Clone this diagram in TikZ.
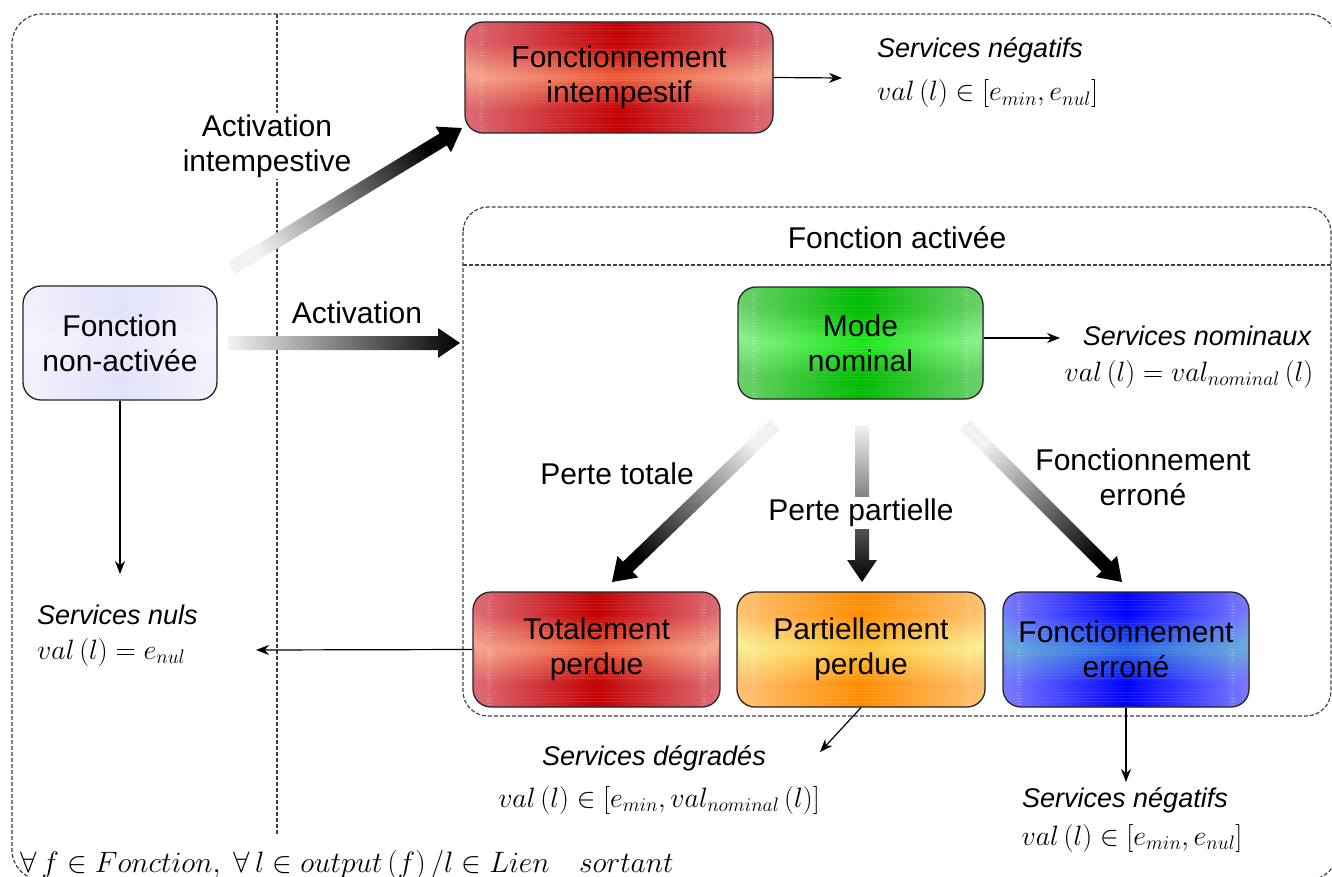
\RequirePackage{fix-cm}
\documentclass[tikz,border=0pt]{standalone}
\usepackage{fontspec}
\setmainfont{Liberation Sans}
\usetikzlibrary{calc,arrows.meta}

\definecolor{redE}{RGB}{220,104,114}
\definecolor{redC}{RGB}{195,0,0}
\definecolor{redBE}{RGB}{246,168,142}
\definecolor{redBC}{RGB}{236,92,55}
\definecolor{grnE}{RGB}{104,208,104}
\definecolor{grnC}{RGB}{0,188,0}
\definecolor{grnBE}{RGB}{140,242,140}
\definecolor{grnBC}{RGB}{30,232,30}
\definecolor{orgE}{RGB}{255,192,112}
\definecolor{orgC}{RGB}{255,140,0}
\definecolor{orgBE}{RGB}{250,240,150}
\definecolor{orgBC}{RGB}{252,196,60}
\definecolor{bluE}{RGB}{118,118,255}
\definecolor{bluC}{RGB}{0,0,255}
\definecolor{bluBE}{RGB}{105,172,220}
\definecolor{bluBC}{RGB}{45,105,228}
\definecolor{lavE}{RGB}{240,240,253}
\definecolor{lavC}{RGB}{226,226,250}
\definecolor{lavBE}{RGB}{246,246,255}
\definecolor{lavBC}{RGB}{234,234,252}

\newcommand{\bxf}{\fontsize{30}{35}\selectfont}
\newcommand{\itf}{\fontsize{27}{32}\selectfont\itshape}
\newcommand{\mtf}{\fontsize{28}{32}\selectfont}
\newcommand{\btf}{\fontsize{29.5}{32}\selectfont}

\tikzset{
  statebox/.style n args={4}{draw=black!85, line width=1.3pt, rounded corners=18pt,
    align=center, font=\bxf, inner sep=0pt,
    path picture={
      \foreach \i in {0,...,39}{
        \pgfmathsetmacro\ta{\i/40}
        \pgfmathsetmacro\tb{min(1,(\i+1.15)/40)}
        \pgfmathsetmacro\w{100*max(0,1-abs((\i+0.5)/40-0.5)/0.3)}
        \colorlet{stE}{#3!\w!#1}
        \colorlet{stC}{#4!\w!#2}
        \fill[stE]
          ($(path picture bounding box.north west)!\ta!(path picture bounding box.south west)$)
          rectangle ($(path picture bounding box.north east)!\tb!(path picture bounding box.south east)$);
        \shade[left color=stE, right color=stE, middle color=stC]
          ($(path picture bounding box.north west)!\ta!(path picture bounding box.south west)+(6,0)$)
          rectangle ($(path picture bounding box.north east)!\tb!(path picture bounding box.south east)+(-6,0)$);
      }}},
  dashbox/.style={draw=black!75, line width=1.2pt, dash pattern=on 4pt off 2pt},
  thinarrow/.style={draw=black, line width=1.2pt, -{Stealth[length=13pt,width=10pt]}},
  lbl/.style={font=\bxf, align=center, inner sep=2pt},
  itxt/.style={font=\itf, inner sep=0pt},
  mtxt/.style={font=\mtf, inner sep=0pt},
}

% shaded thick arrow from #1 to #2, shading angle #3
\newcommand{\gradarrow}[3]{%
  \coordinate (#1h) at ($(#2)!22pt!(#1)$);
  \shade[bottom color=black!5, top color=black, shading angle=#3]
    ($(#1)!7pt!90:(#2)$) -- ($(#1h)!7pt!90:(#2)$) -- ($(#1h)!15pt!90:(#2)$) -- (#2)
    -- ($(#1h)!15pt!-90:(#2)$) -- ($(#1h)!7pt!-90:(#2)$) -- ($(#1)!7pt!-90:(#2)$) -- cycle;
}

\begin{document}
\begin{tikzpicture}[x=1pt,y=-1pt]
\useasboundingbox (0,0) rectangle (1332,877);

% frames
\draw[dashbox, rounded corners=30pt] (12,14) rectangle (1338,880);
\draw[dashbox] (277,14) -- (277,835);
\draw[dashbox, rounded corners=25pt] (463,207) rectangle (1331,716);
\draw[dashbox] (463,265) -- (1331,265);
\node[lbl] (fa) at (897,238) {Fonction activée};

% nodes
\node[statebox={redE}{redC}{redBE}{redBC}, minimum width=308pt, minimum height=111pt] (ti) at (619,77.5) {Fonctionnement\\intempestif};
\node[statebox={lavE}{lavC}{lavBE}{lavBC}, minimum width=194pt, minimum height=114pt] (na) at (120,343) {Fonction\\non-activée};
\node[statebox={grnE}{grnC}{grnBE}{grnBC}, minimum width=245pt, minimum height=112pt] (mn) at (860.5,343) {Mode\\nominal};
\node[statebox={redE}{redC}{redBE}{redBC}, minimum width=247pt, minimum height=115pt] (tp) at (596.5,649.5) {Totalement\\perdue};
\node[statebox={orgE}{orgC}{orgBE}{orgBC}, minimum width=248pt, minimum height=115pt] (pp) at (861,649.5) {Partiellement\\perdue};
\node[statebox={bluE}{bluC}{bluBE}{bluBC}, minimum width=246pt, minimum height=115pt] (fe) at (1126,649.5) {Fonctionnement\\erroné};

% labels
\node[lbl, fill=white] (lai) at (267,146) {Activation\\intempestive};
\node[lbl] (la) at (357,313) {Activation};
\node[lbl] (lpt) at (617,474) {Perte totale};
\node[lbl] (lfe) at (1143,477) {Fonctionnement\\erroné};

% thick shaded arrows
\coordinate (a1s) at (232,268); \coordinate (a1e) at (462,128);
\coordinate (a2s) at (228,343); \coordinate (a2e) at (460,343);
\coordinate (a3s) at (775,425); \coordinate (a3e) at (612,582);
\coordinate (a4s) at (862,425); \coordinate (a4e) at (862,582);
\coordinate (a5s) at (965,425); \coordinate (a5e) at (1122,582);
\gradarrow{a1s}{a1e}{-58.7}
\gradarrow{a2s}{a2e}{-90}
\gradarrow{a3s}{a3e}{133.9}
\gradarrow{a4s}{a4e}{-180}
\gradarrow{a5s}{a5e}{-135}
\node[lbl, fill=white] (lpp) at (861,513) {Perte partielle};

% outputs
\coordinate (tiout) at (842,78);
\coordinate (mnout) at (1060,338);
\coordinate (naout) at (120,574);
\coordinate (tpout) at (256,650);
\coordinate (ppout) at (820,752);
\coordinate (feout) at (1126,782);
\draw[thinarrow] (ti.east) -- (tiout);
\draw[thinarrow] (mn.east |- mnout) -- (mnout);
\draw[thinarrow] (na.south) -- (naout);
\draw[thinarrow] (tp.west) -- (tpout);
\draw[thinarrow] (pp.south) -- (ppout);
\draw[thinarrow] (fe.south) -- (feout);

% output texts
\node[itxt, anchor=west] (s1) at (877,50) {Services négatifs};
\node[mtxt, anchor=west] (s1f) at (877,94) {$val\left(l\right)\in\left[e_{min},e_{nul}\right]$};
\node[itxt] (s2) at (1197,336) {Services nominaux};
\node[mtxt] (s2f) at (1189,374) {$val\left(l\right)=val_{nominal}\left(l\right)$};
\node[itxt, anchor=west] (s3) at (37,615) {Services nuls};
\node[mtxt, anchor=west] (s3f) at (37,652) {$val\left(l\right)=e_{nul}$};
\node[itxt] (s4) at (654,758) {Services dégradés};
\node[mtxt] (s4f) at (659,800) {$val\left(l\right)\in\left[e_{min},val_{nominal}\left(l\right)\right]$};
\node[itxt] (s5) at (1125,800) {Services négatifs};
\node[mtxt] (s5f) at (1132,838) {$val\left(l\right)\in\left[e_{min},e_{nul}\right]$};

\node[inner sep=0pt, font=\btf, anchor=west] (fa2) at (20,865) {$\forall\, f\in Fonction,\ \forall\, l\in output\left(f\right)/l\in Lien\quad sortant$};
\end{tikzpicture}
\end{document}
